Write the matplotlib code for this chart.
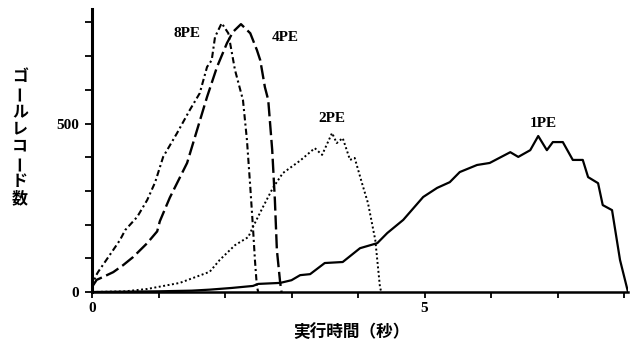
import matplotlib as mpl
mpl.use('agg')
import matplotlib.pyplot as plt
import numpy as np

# goal records vs execution time, for 1/2/4/8 PE
x1 = [0, 0.5, 1.0, 1.5, 1.77, 2.1, 2.42, 2.5, 2.83, 3.0, 3.13, 3.28, 3.50, 3.77, 4.03, 4.29, 4.44,
      4.68, 4.98, 5.19, 5.38, 5.53, 5.79, 5.98, 6.29, 6.41, 6.59, 6.71, 6.84, 6.93, 7.08, 7.23,
      7.38, 7.46, 7.61, 7.68, 7.82, 7.94, 8.06]
y1 = [0, 1, 2, 4, 7, 12, 18, 24, 27, 35, 50, 53, 86, 89, 130, 145, 175,
      214, 282, 309, 326, 356, 377, 383, 415, 401, 421, 463, 421, 445, 445, 392,
      392, 341, 323, 258, 243, 95, 0]

x2 = [0, 0.5, 0.83, 1.32, 1.77, 1.92, 2.15, 2.35, 2.42, 2.57, 2.72, 2.87, 3.13, 3.35, 3.46,
      3.61, 3.68, 3.77, 3.88, 3.95, 4.06, 4.15, 4.26, 4.33, 4.35]
y2 = [0, 2, 9, 27, 60, 95, 139, 163, 193, 252, 309, 353, 390, 427, 407,
      472, 442, 457, 392, 398, 323, 264, 154, 15, 0]

x4 = [0, 0.07, 0.17, 0.32, 0.47, 0.62, 0.83, 0.98, 1.02, 1.17, 1.43, 1.58, 1.73, 1.88, 2.03,
      2.12, 2.24, 2.38, 2.48, 2.53, 2.60, 2.65, 2.71, 2.75, 2.78, 2.83, 2.85]
y4 = [15, 36, 45, 59, 80, 104, 145, 180, 210, 280, 383, 481, 579, 668, 739,
      772, 795, 768, 718, 688, 608, 570, 421, 273, 125, 27, 0]

x8 = [0, 0.05, 0.09, 0.32, 0.42, 0.5, 0.68, 0.83, 0.95, 1.07, 1.28, 1.47, 1.62, 1.73, 1.80,
      1.85, 1.95, 2.05, 2.15, 2.27, 2.33, 2.38, 2.42, 2.45, 2.48, 2.50]
y8 = [10, 45, 59, 125, 154, 184, 223, 273, 326, 401, 472, 540, 590, 668, 688,
      757, 798, 768, 659, 570, 451, 312, 193, 95, 15, 0]

labels = ["1PE", "2PE", "4PE", "8PE"]
label_pos = [(6.78, 501), (3.61, 516), (2.90, 754), (1.43, 766)]

xticks = [0, 1, 2, 3, 4, 5, 6, 7, 8]
xticklabels = ["0", "", "", "", "", "5", "", "", ""]
yticks = [0, 100, 200, 300, 400, 500, 600, 700, 800]
yticklabels = ["0", "", "", "", "", "500", "", "", ""]

ylabel = "ゴールレコード数"
xlabel = "実行時間（秒）"

cjk = ['Noto Sans CJK JP', 'DejaVu Sans']
num = ['Liberation Serif', 'DejaVu Serif']

W, H = 632, 341
fig = plt.figure(figsize=(W / 100, H / 100), dpi=100)
ax = fig.add_axes([92 / W, 1 - 292 / H, (628 - 92) / W, (292 - 9) / H])

ax.plot(x1, y1, color='black', linewidth=1.6, linestyle='-')
ax.plot(x2, y2, color='black', linewidth=1.4, linestyle=(0, (1, 1.3)))
ax.plot(x4, y4, color='black', linewidth=1.7, linestyle=(0, (6, 2)))
ax.plot(x8, y8, color='black', linewidth=1.5, linestyle=(0, (3, 1.5, 1, 1.5)))

for lab, (lx, ly) in zip(labels, label_pos):
    ax.text(lx, ly, lab, ha='center', va='center', fontsize=11, fontweight='bold', family=num)

ax.set_xlim(0, 8.06)
ax.set_ylim(0, 840)
ax.spines['top'].set_visible(False)
ax.spines['right'].set_visible(False)
ax.spines['left'].set_linewidth(2.2)
ax.spines['bottom'].set_linewidth(1.8)

ax.set_xticks(xticks)
ax.set_xticklabels(xticklabels, fontsize=11, fontweight='bold', family=num)
ax.set_yticks(yticks)
ax.set_yticklabels(yticklabels, fontsize=11, fontweight='bold', family=num)
ax.tick_params(axis='x', direction='out', length=4, width=1.3, pad=3)
ax.tick_params(axis='y', direction='out', length=5, width=1.3, pad=4)

fig.text(351 / W, 1 - 332 / H, xlabel, ha='center', va='center', fontsize=12,
         fontweight='bold', family=cjk)

# vertical y label, one character per row
ys = np.linspace(76, 198, len(ylabel))
for ch, py in zip(ylabel, ys):
    rot = 90 if ch == 'ー' else 0
    fig.text(20 / W, 1 - py / H, ch, ha='center', va='center', fontsize=11.5,
             fontweight='bold', family=cjk, rotation=rot)

fig.savefig("out.png", dpi=100)
